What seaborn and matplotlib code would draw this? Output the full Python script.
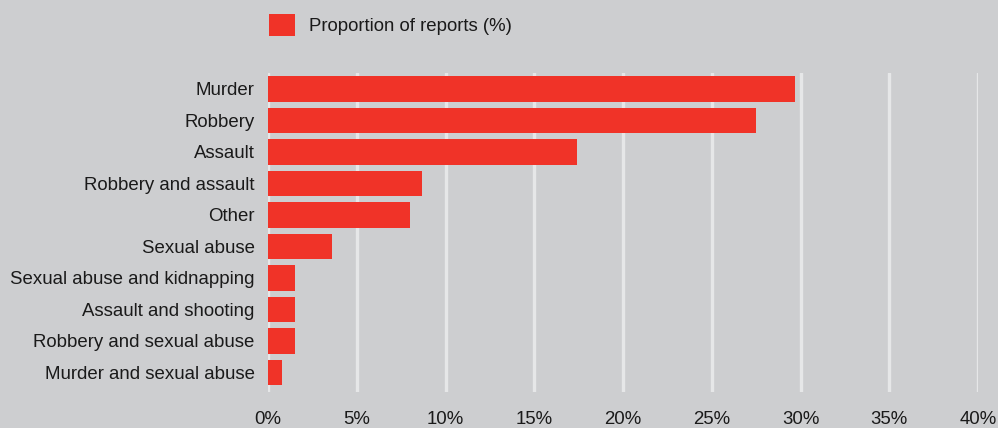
import matplotlib
matplotlib.use("Agg")
import matplotlib.pyplot as plt
import seaborn as sns
import pandas as pd
from matplotlib.ticker import MultipleLocator, FuncFormatter

# Crime categories and their share of reports (%)
categories = [
    "Murder",
    "Robbery",
    "Assault",
    "Robbery and assault",
    "Other",
    "Sexual abuse",
    "Sexual abuse and kidnapping",
    "Assault and shooting",
    "Robbery and sexual abuse",
    "Murder and sexual abuse",
]
proportions = [29.7, 27.5, 17.4, 8.7, 8.0, 3.6, 1.5, 1.5, 1.5, 0.8]
series_label = "Proportion of reports (%)"

BG = "#cdced0"
RED = "#f03328"
GRID = "#e6e7e8"
TEXT = "#1a1a1a"
FS = 13.4

df = pd.DataFrame({"category": categories, "value": proportions})

sns.set_theme(style="white")
plt.rcParams["font.family"] = ["Liberation Sans", "DejaVu Sans"]

fig = plt.figure(figsize=(9.98, 4.28), dpi=100, facecolor=BG)
ax = fig.add_axes([268 / 998, 1 - 392 / 428, (978 - 268) / 998, (392 - 73) / 428])
ax.set_facecolor(BG)

sns.barplot(data=df, x="value", y="category", color=RED, saturation=1,
            width=0.81, label=series_label, linewidth=0, ax=ax, zorder=3)

ax.set_xlim(0, 40)
ax.set_ylim(9.62, -0.5)
ax.xaxis.set_major_locator(MultipleLocator(5))
ax.xaxis.set_major_formatter(FuncFormatter(lambda v, _: f"{v:.0f}%"))
ax.grid(axis="x", color=GRID, linewidth=2.4, zorder=1)
ax.grid(axis="y", visible=False)
for s in ax.spines.values():
    s.set_visible(False)
ax.set_xlabel("")
ax.set_ylabel("")
ax.tick_params(axis="both", length=0, labelsize=FS, colors=TEXT)
ax.tick_params(axis="y", pad=9.5)
ax.tick_params(axis="x", pad=13.5)

handles, labels = ax.get_legend_handles_labels()
ax.legend(handles, labels, loc="center left", bbox_to_anchor=(269 / 998, 1 - 25 / 428),
          bbox_transform=fig.transFigure, frameon=False, fontsize=FS,
          handlelength=1.42, handleheight=1.42, handletextpad=0.72,
          borderaxespad=0, borderpad=0, labelcolor=TEXT)

fig.savefig("out.png", dpi=100, facecolor=BG)
